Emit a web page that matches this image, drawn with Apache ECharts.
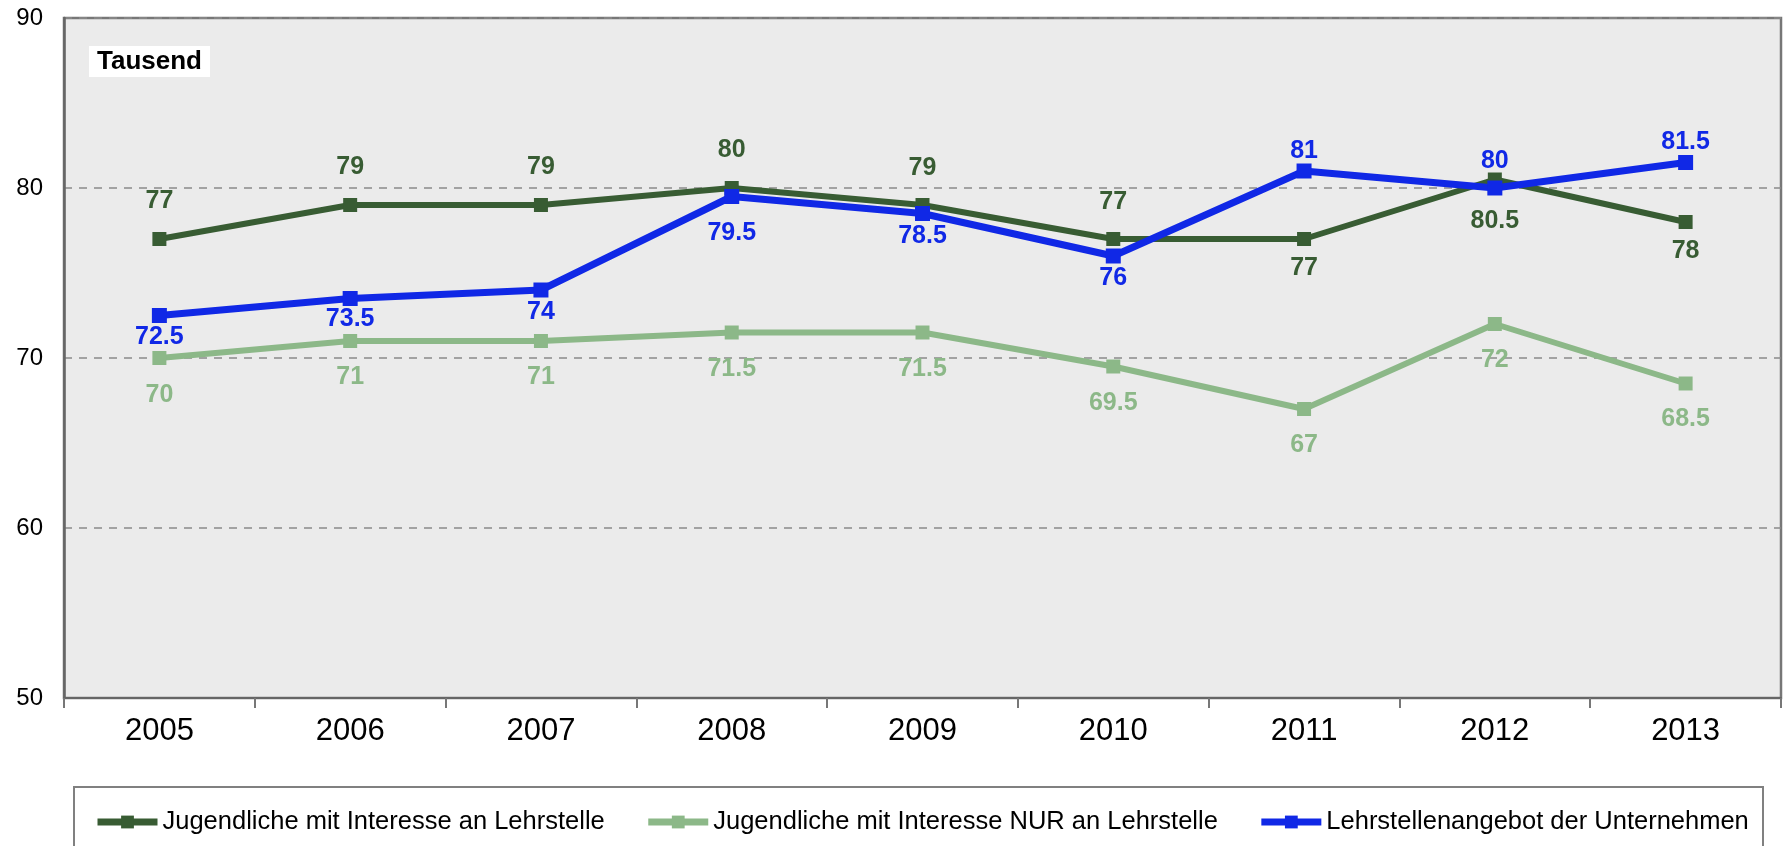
<!DOCTYPE html>
<html>
<head>
<meta charset="utf-8">
<script src="https://cdn.jsdelivr.net/npm/echarts@6/dist/echarts.min.js"></script>
<style>
  html, body { margin: 0; padding: 0; background: #ffffff; }
  #chart { width: 1784px; height: 846px; }
</style>
</head>
<body>
<div id="chart"></div>
<script>
// ---- data ----
const years = ['2005', '2006', '2007', '2008', '2009', '2010', '2011', '2012', '2013'];
const seriesNames = [
  'Jugendliche mit Interesse an Lehrstelle',
  'Jugendliche mit Interesse NUR an Lehrstelle',
  'Lehrstellenangebot der Unternehmen'
];
const interesse = [77, 79, 79, 80, 79, 77, 77, 80.5, 78];
const interesseNur = [70, 71, 71, 71.5, 71.5, 69.5, 67, 72, 68.5];
const angebot = [72.5, 73.5, 74, 79.5, 78.5, 76, 81, 80, 81.5];
const yTicks = { min: 50, max: 90, interval: 10 };
const unitLabel = 'Tausend';

// ---- label placement (presentation only) ----
const darkLabel = [['top',18],['top',18],['top',18],['top',18],['top',17],['top',17],['bottom',10],['bottom',22],['bottom',10]];
const lightLabel = [['bottom',18],['bottom',17],['bottom',17],['bottom',17],['bottom',17],['bottom',17],['bottom',17],['bottom',17],['bottom',16]];
const blueLabel = [['bottom',2],['bottom',1],['bottom',2],['bottom',17],['bottom',3],['bottom',2],['top',0],['top',7],['top',0]];

const FONT = "'Liberation Sans', Arial, sans-serif";
const C_DARK = '#385c33';
const C_LIGHT = '#8cb888';
const C_BLUE = '#1028e6';

function withLabels(values, placement) {
  return values.map((v, i) => ({
    value: v,
    label: { position: placement[i][0], distance: placement[i][1] }
  }));
}

function makeSeries(name, values, placement, color, width, size) {
  return {
    name: name,
    type: 'line',
    data: withLabels(values, placement),
    symbol: 'rect',
    symbolSize: size,
    lineStyle: { color: color, width: width },
    itemStyle: { color: color },
    label: {
      show: true,
      color: color,
      fontFamily: FONT,
      fontWeight: 'bold',
      fontSize: 25
    },
    emphasis: { disabled: true },
    animation: false
  };
}

const chart = echarts.init(document.getElementById('chart'), null, { renderer: 'canvas' });
chart.setOption({
  backgroundColor: '#ffffff',
  animation: false,
  textStyle: { fontFamily: FONT },
  title: {
    text: unitLabel,
    left: 89,
    top: 46,
    padding: [3, 8, 2, 8],
    backgroundColor: '#ffffff',
    textStyle: { fontFamily: FONT, fontWeight: 'bold', fontSize: 26, color: '#000000' }
  },
  graphic: [{
    type: 'rect',
    z: -1,
    shape: { x: 74, y: 787, width: 1689, height: 100 },
    style: { fill: '#ffffff', stroke: '#808080', lineWidth: 2 }
  }],
  grid: {
    left: 64, right: 3, top: 18, bottom: 148,
    show: true,
    backgroundColor: '#ebebeb',
    borderColor: '#777777',
    borderWidth: 2.5
  },
  legend: {
    data: seriesNames,
    left: 89,
    top: 804,
    itemWidth: 60,
    itemHeight: 16,
    itemGap: 40,
    lineStyle: { width: 7 },
    textStyle: { fontFamily: FONT, fontSize: 25.5, color: '#000000' }
  },
  xAxis: {
    type: 'category',
    data: years,
    boundaryGap: true,
    axisLine: { lineStyle: { color: '#666666', width: 2 } },
    axisTick: { show: true, length: 10, interval: 0, lineStyle: { color: '#777777', width: 2 } },
    axisLabel: { color: '#000000', fontSize: 31, fontFamily: FONT, margin: 18, interval: 0 },
    splitLine: { show: false }
  },
  yAxis: {
    type: 'value',
    min: yTicks.min,
    max: yTicks.max,
    interval: yTicks.interval,
    axisLine: { show: true, lineStyle: { color: '#666666', width: 2.5 } },
    axisTick: { show: false },
    axisLabel: { color: '#000000', fontSize: 24, fontFamily: FONT, margin: 21 },
    splitLine: { show: true, lineStyle: { color: '#8a8a8a', type: [8, 7], width: 1.5 } }
  },
  series: [
    makeSeries(seriesNames[0], interesse, darkLabel, C_DARK, 6, 14),
    makeSeries(seriesNames[1], interesseNur, lightLabel, C_LIGHT, 6, 14),
    makeSeries(seriesNames[2], angebot, blueLabel, C_BLUE, 7, 15)
  ]
});
</script>
</body>
</html>
